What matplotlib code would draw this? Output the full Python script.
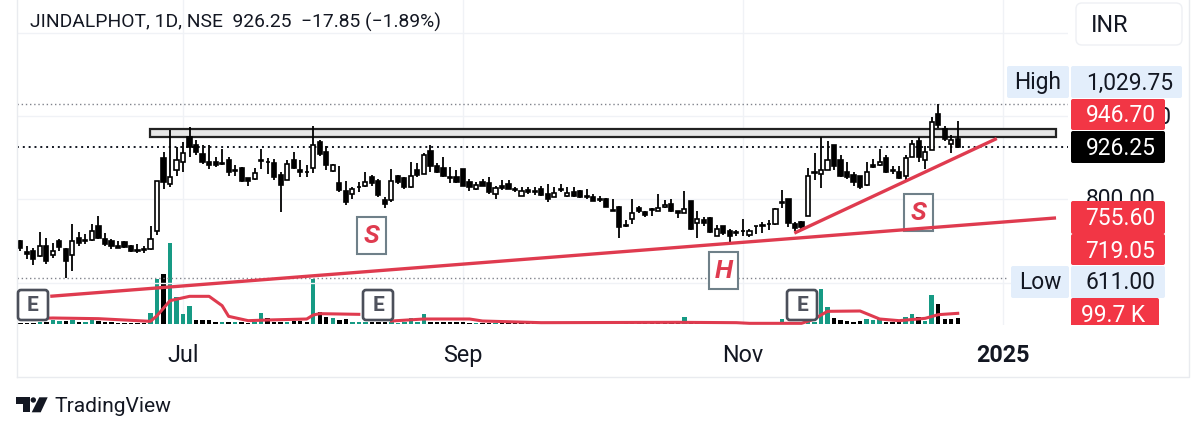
import matplotlib
matplotlib.use("Agg")
import matplotlib.pyplot as plt
from matplotlib.patches import FancyBboxPatch, Rectangle, Polygon, Circle

W, H = 1200, 435
INK = "#131722"
RED = "#f23645"
LINE = "#df3b4f"
TEAL = "#169a84"
BLUE = "#e3eefb"
GRID = "#f0f2f6"
plt.rcParams["font.family"] = ["Roboto", "DejaVu Sans"]

# daily candles
opens = [701, 673, 677, 663, 689, 667, 699, 681, 667, 708, 703, 702, 736, 705, 700, 689, 697, 687, 679, 680,
         681, 723, 900, 837, 870, 891, 951, 931, 910, 891, 890, 887, 896, 871, 875, 851, 849, 895, 891, 888,
         859, 848, 896, 871, 867, 876, 939, 915, 869, 840, 821, 813, 831, 832, 854, 844, 798, 799, 857, 852,
         831, 871, 861, 916, 880, 875, 854, 853, 873, 841, 824, 842, 840, 813, 833, 838, 825, 809, 822, 821,
         825, 814, 805, 825, 808, 819, 821, 808, 806, 801, 800, 774, 781, 738, 752, 779, 771, 776, 773, 781,
         789, 772, 768, 796, 744, 750, 756, 712, 736, 724, 722, 725, 715, 737, 739, 742, 740, 793, 800, 741,
         745, 760, 867, 861, 872, 930, 894, 867, 859, 856, 835, 882, 882, 899, 872, 867, 857, 902, 941, 895,
         919, 1005, 970, 934, 946]
highs = [703, 689, 683, 721, 707, 695, 704, 683, 741, 721, 716, 741, 760, 719, 705, 701, 701, 691, 693, 687,
         736, 845, 915, 968, 927, 939, 975, 944, 930, 930, 902, 922, 902, 883, 877, 851, 876, 922, 900, 898,
         865, 894, 914, 896, 882, 978, 944, 928, 886, 880, 845, 831, 843, 867, 859, 849, 805, 873, 859, 853,
         891, 888, 912, 931, 888, 901, 877, 870, 873, 849, 841, 849, 855, 833, 848, 846, 830, 829, 830, 829,
         832, 837, 830, 837, 829, 829, 822, 826, 813, 808, 803, 801, 785, 751, 801, 785, 773, 779, 812, 798,
         800, 772, 820, 796, 772, 757, 757, 739, 737, 729, 727, 752, 728, 737, 745, 750, 779, 823, 801, 746,
         748, 875, 911, 951, 941, 930, 907, 891, 865, 857, 890, 898, 922, 907, 880, 880, 907, 944, 950, 928,
         999, 1029.75, 976, 954, 990]
lows = [675, 657, 643, 661, 645, 659, 677, 611, 629, 687, 693, 700, 705, 689, 681, 683, 683, 673, 671, 672,
        679, 715, 824, 831, 856, 867, 902, 908, 886, 874, 877, 882, 857, 857, 843, 833, 848, 874, 861, 848,
        769, 846, 874, 853, 853, 864, 904, 872, 865, 817, 787, 801, 819, 829, 833, 807, 780, 793, 837, 824,
        827, 855, 861, 867, 864, 853, 840, 839, 832, 821, 823, 832, 814, 800, 822, 824, 817, 808, 813, 811,
        808, 793, 805, 817, 807, 807, 804, 801, 797, 794, 782, 772, 708, 733, 742, 768, 758, 760, 772, 780,
        769, 756, 767, 727, 707, 736, 719, 711, 715, 697, 711, 711, 710, 716, 720, 726, 739, 779, 733, 723,
        725, 760, 846, 827, 871, 872, 853, 849, 833, 824, 833, 876, 880, 864, 862, 849, 848, 901, 891, 873,
        918, 971, 941, 912, 923]
closes = [683, 669, 657, 689, 653, 677, 685, 653, 701, 695, 700, 723, 708, 692, 689, 683, 686, 675, 677, 678,
          705, 845, 843, 855, 894, 912, 926, 914, 891, 882, 882, 885, 865, 869, 845, 845, 864, 892, 889, 853,
          835, 885, 875, 865, 865, 930, 910, 882, 882, 823, 793, 824, 829, 842, 840, 811, 788, 845, 841, 829,
          857, 859, 906, 880, 867, 857, 852, 842, 833, 830, 835, 833, 817, 827, 827, 825, 822, 821, 819, 819,
          811, 800, 816, 823, 816, 809, 805, 805, 797, 799, 783, 772, 734, 736, 768, 772, 763, 774, 780, 787,
          772, 768, 776, 728, 752, 743, 721, 729, 720, 713, 720, 723, 723, 735, 736, 740, 776, 791, 744, 732,
          734, 856, 863, 870, 894, 880, 856, 853, 841, 829, 865, 877, 890, 867, 869, 852, 899, 934, 901, 914,
          986, 979, 946, 944, 926.25]

# volume in thousands, with the colour of each bar (g up, k down)
volumes = [15, 15, 15, 30, 40, 70, 50, 50, 70, 40, 35, 70, 50, 30, 30, 25, 25, 20, 20, 20,
           165, 675, 750, 1215, 410, 160, 270, 65, 70, 65, 30, 40, 40, 40, 35, 25, 40, 165, 90, 35,
           35, 40, 45, 45, 40, 685, 185, 110, 90, 65, 80, 30, 30, 30, 30, 30, 30, 30, 25, 30,
           100, 40, 150, 40, 40, 40, 40, 40, 30, 25, 20, 25, 20, 15, 15, 20, 15, 15, 15, 20,
           15, 15, 20, 15, 15, 15, 15, 20, 15, 15, 15, 15, 15, 15, 15, 15, 15, 15, 15, 15,
           15, 15, 110, 15, 15, 15, 15, 15, 15, 15, 15, 15, 15, 15, 15, 15, 15, 80, 20, 20,
           20, 30, 40, 525, 265, 90, 60, 50, 30, 50, 80, 60, 75, 40, 30, 30, 110, 150, 110, 50,
           440, 300, 85, 75, 99.7]
vol_sides = ("kkkgkggkgkggkkkkkkkk" "ggkggggkkkkgkgkkggkk" "kgkkkgkkgkkgggkkkggg"
             "gggkkkkkkkgkkgkkkkkk" "kkkkkkkkkkkkkkkkkkkk" "kkgkkkkkkkkkkkkkkgkk"
             "kggggkkkkkgggkkkggkg" "gkkkk")

# volume average line, sparse points, split where the earnings flag hides it
ma_days_a = [0, 5, 12, 20, 21, 23, 26, 29, 31, 32, 35, 38, 44, 45, 46, 52]
ma_vals_a = [80, 95, 85, 45, 130, 355, 420, 420, 280, 120, 55, 65, 80, 140, 160, 150]
ma_days_b = [57, 62, 69, 71, 80, 101, 110, 112, 120, 122, 123, 124, 129, 132, 135, 139, 141, 144]
ma_vals_b = [50, 80, 80, 50, 25, 30, 25, 15, 15, 80, 140, 195, 200, 80, 55, 90, 145, 165]

tick_days = [25, 68, 111, 151]
tick_labels = ["Jul", "Sep", "Nov", "2025"]
price_grid = [600, 800, 1000, 1200]

high_price, low_price, last_price = 1029.75, 611.00, 926.25
zone = (951, 970, 19.9, 159.1)
long_line = ([4.6, 159.1], [567, 755.6])
short_line = ([118.9, 150], [719.05, 946.7])


def rect_px(x0, y0, x1, y1):
    return [x0 / W, 1 - y1 / H, (x1 - x0) / W, (y1 - y0) / H]


fig = plt.figure(figsize=(W / 100, H / 100), dpi=100, facecolor="white")
AX_L, AX_R, AX_B = 17, 1068, 326
px_per_price = 174 / (high_price - low_price)
xlim = ((AX_L - 20.3) / 6.51, (AX_R - 20.3) / 6.51)
ylim = (high_price - (AX_B - 105) / px_per_price, high_price + 105 / px_per_price)
days = list(range(len(opens)))

# volume pane sits lowest and carries the date axis
vol = fig.add_axes(rect_px(AX_L, 0, AX_R, AX_B), zorder=1)
vol.set_xlim(xlim)
vol.set_ylim(-10, 325.3 * 15)
vol.bar(days, volumes, width=0.68, color=[TEAL if s == "g" else "black" for s in vol_sides], zorder=2)
vol.plot(ma_days_a, ma_vals_a, color=LINE, lw=2.2, zorder=3)
vol.plot(ma_days_b, ma_vals_b, color=LINE, lw=2.2, zorder=3)
vol.set_xticks(tick_days, tick_labels, fontsize=16.8, color=INK)
vol.get_xticklabels()[3].set_fontweight("bold")
vol.tick_params(axis="x", length=0, pad=13)
vol.set_yticks([])
vol.grid(axis="x", color=GRID, lw=1, zorder=0)
vol.set_axisbelow(True)
for s in vol.spines.values():
    s.set_visible(False)

# price pane on top, transparent
ax = fig.add_axes(rect_px(AX_L, 0, AX_R, AX_B), zorder=2)
ax.patch.set_alpha(0)
ax.set_xlim(xlim)
ax.set_ylim(ylim)
ax.set_xticks([])
ax.set_yticks([])
for s in ax.spines.values():
    s.set_visible(False)
for p in price_grid:
    ax.axhline(p, color=GRID, lw=1, zorder=0)

ax.add_patch(Rectangle((zone[2], zone[0]), zone[3] - zone[2], zone[1] - zone[0],
                       fc="#e6e6e6", ec="#222222", lw=1.6, zorder=1))
ax.axhline(high_price, color="#80838c", ls=(0, (1, 2)), lw=1, zorder=1)
ax.hlines(low_price, xlim[0], (1008 - 20.3) / 6.51, color="#80838c", ls=(0, (1, 2)), lw=1, zorder=1)
ax.axhline(last_price, color=INK, ls=(0, (1, 2)), lw=1.4, zorder=1)

ax.vlines(days, lows, highs, color="black", lw=1.3, zorder=3)
body_low = [min(o, c) for o, c in zip(opens, closes)]
body_h = [max(abs(o - c), 1.5) for o, c in zip(opens, closes)]
body_fc = ["white" if c > o else "black" for o, c in zip(opens, closes)]
ax.bar(days, body_h, bottom=body_low, width=0.64, color=body_fc, edgecolor="black", lw=1.2, zorder=4)

# pattern flags sit under the trend lines
for x0, y0, label in [(357, 218, "S"), (904, 195, "S"), (709, 253, "H")]:
    ax.add_patch(Rectangle((x0 / W, 1 - (y0 + 37) / H), 29 / W, 37 / H, fc="white", ec="#6f8089",
                           lw=1.5, zorder=5, transform=fig.transFigure))
    ax.text((x0 + 14.5) / W, 1 - (y0 + 18.5) / H, label, transform=fig.transFigure, fontsize=19,
            color=LINE, weight="bold", style="italic", ha="center", va="center", zorder=6)

ax.plot(*long_line, color=LINE, lw=2.4, zorder=7, solid_capstyle="butt")
ax.plot(*short_line, color=LINE, lw=2.4, zorder=7, solid_capstyle="butt")

# overlay in pixels for flags, side labels and page furniture
ov = fig.add_axes([0, 0, 1, 1], zorder=3)
ov.patch.set_alpha(0)
ov.set_xlim(0, W)
ov.set_ylim(H, 0)
ov.axis("off")


def badge(x0, y0, x1, y1, fc, ec="none", lw=0, r=2, z=2):
    ov.add_patch(FancyBboxPatch((x0, y0), x1 - x0, y1 - y0, boxstyle=f"round,pad=0,rounding_size={r}",
                                fc=fc, ec=ec, lw=lw, zorder=z))


def txt(x, y, s, color=INK, size=16.4, z=3, ha="center", **kw):
    ov.text(x, y, s, color=color, fontsize=size, ha=ha, va="center", zorder=z, **kw)


for x0 in [18, 363, 787]:
    badge(x0, 291, x0 + 30, 321, "white", "#4b4f5a", 1.9, r=3, z=2)
    txt(x0 + 15, 306, "E", "#50535e", 15, weight="bold")

ov.plot([17, 17], [0, 378], color="#e9ebef", lw=1, zorder=0)
ov.plot([17, 1189, 1189], [378, 378, 0], color="#e9ebef", lw=1, zorder=0)

txt(30, 22.5, "JINDALPHOT, 1D, NSE  926.25  \u221217.85 (\u22121.89%)", size=13.9, ha="left")

badge(1076, 4, 1182, 46, "white", "#eef0f4", 1, r=6)
txt(1091, 25, "INR", ha="left", size=16.8)

txt(1128, 117, "1,000.00", z=1)
txt(1120.5, 200, "800.00", z=1)

badge(1007, 67, 1069, 99, BLUE)
txt(1038, 83, "High")
badge(1071, 67, 1182, 99, BLUE)
txt(1129.5, 83, "1,029.75")

for y0, y1, fc, s in [(100, 131, RED, "946.70"), (132, 164, "black", "926.25"),
                      (202, 235, RED, "755.60"), (235, 266, RED, "719.05")]:
    badge(1071, y0, 1165, y1, fc)
    txt(1120.5, (y0 + y1) / 2 + 0.5, s, "white")

badge(1011, 267, 1069, 299, BLUE)
txt(1040, 283, "Low")
badge(1071, 267, 1165, 299, BLUE)
txt(1120.5, 283, "611.00")

badge(1071, 299, 1159, 332, RED)
txt(1113, 316, "99.7 K", "white")
ov.add_patch(Rectangle((1065, 326), 110, 12, fc="white", ec="none", zorder=4))

# TradingView mark
ov.add_patch(Polygon([(16, 398.3), (30, 398.3), (30, 413.3), (22.7, 413.3), (22.7, 404.7), (16, 404.7)], fc=INK, ec="none"))
ov.add_patch(Circle((33.3, 401), 2.7, fc=INK, ec="none"))
ov.add_patch(Polygon([(39.3, 398.3), (47.7, 398.3), (40.7, 413.3), (31.7, 413.3)], fc=INK, ec="none"))
txt(54, 407, "TradingView", size=15.1, ha="left")

fig.savefig("out.png", dpi=100, facecolor="white")
